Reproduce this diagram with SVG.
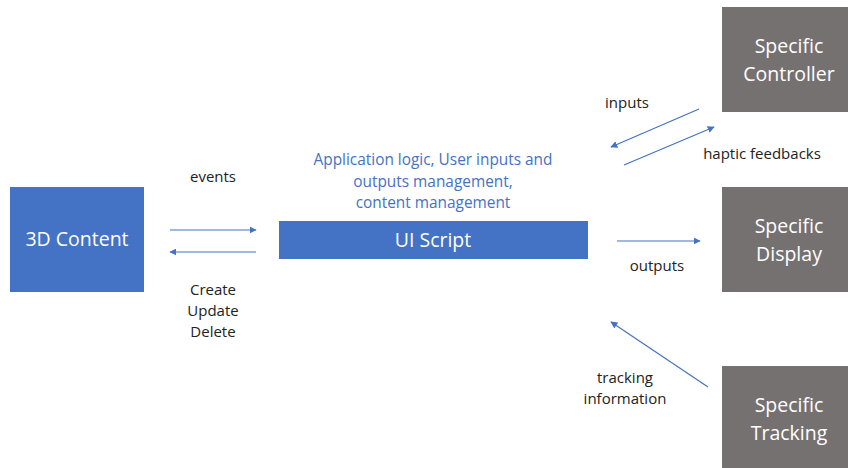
<svg xmlns="http://www.w3.org/2000/svg" width="848" height="468" viewBox="0 0 848 468">
<style>
.blue{fill:#4472C4}
.gray{fill:#767171}
.nt{font-family:"Open Sans","Liberation Sans",sans-serif;font-size:19.5px;fill:#ffffff;text-anchor:middle}
.lb{font-family:"Open Sans","Liberation Sans",sans-serif;font-size:15px;fill:#222222;text-anchor:middle}
.bl{font-family:"Open Sans","Liberation Sans",sans-serif;font-size:15.4px;fill:#4472C4;text-anchor:middle}
.c{stroke:#4472C4;stroke-width:1.2;fill:none;marker-end:url(#ah)}
</style>
<defs>
<marker id="ah" viewBox="0 0 10 10" refX="9" refY="5" markerWidth="7" markerHeight="7" orient="auto" markerUnits="userSpaceOnUse">
<path d="M0,0 L10,5 L0,10 z" fill="#4472C4"/>
</marker>
</defs>
<rect width="848" height="468" fill="#ffffff"/>
<g id="content3d">
<rect class="blue" x="10" y="187" width="134" height="105"/>
<text class="nt" x="77" y="246">3D Content</text>
</g>
<g id="uiscript">
<text class="bl" x="433" y="165">Application logic, User inputs and</text>
<text class="bl" x="433" y="187">outputs management,</text>
<text class="bl" x="433" y="208">content management</text>
<rect class="blue" x="279" y="221" width="309" height="38"/>
<text class="nt" x="433" y="247">UI Script</text>
</g>
<g id="controller">
<rect class="gray" x="722" y="7" width="126" height="105"/>
<text class="nt" x="789" y="53">Specific</text>
<text class="nt" x="789" y="81">Controller</text>
</g>
<g id="display">
<rect class="gray" x="722" y="187" width="126" height="105"/>
<text class="nt" x="789" y="233">Specific</text>
<text class="nt" x="789" y="261">Display</text>
</g>
<g id="tracking">
<rect class="gray" x="722" y="366" width="126" height="102"/>
<text class="nt" x="789" y="412">Specific</text>
<text class="nt" x="789" y="440">Tracking</text>
</g>
<g id="connectors">
<line class="c" x1="170" y1="230" x2="256" y2="230"/>
<line class="c" x1="256" y1="252" x2="170" y2="252"/>
<line class="c" x1="699" y1="109" x2="611" y2="147"/>
<line class="c" x1="624" y1="165" x2="714" y2="127"/>
<line class="c" x1="617" y1="241" x2="700" y2="241"/>
<line class="c" x1="708" y1="387" x2="611" y2="322"/>
<text class="lb" x="213" y="182">events</text>
<text class="lb" x="213" y="295">Create</text>
<text class="lb" x="213" y="316">Update</text>
<text class="lb" x="213" y="337">Delete</text>
<text class="lb" x="627" y="108">inputs</text>
<text class="lb" x="762" y="159">haptic feedbacks</text>
<text class="lb" x="657" y="271">outputs</text>
<text class="lb" x="625" y="383">tracking</text>
<text class="lb" x="625" y="404">information</text>
</g>
</svg>
